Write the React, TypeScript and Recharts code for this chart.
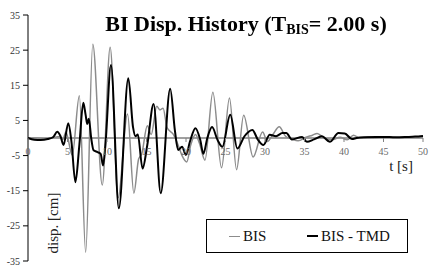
import React from "react";
import { LineChart, Line, XAxis, YAxis, ReferenceLine, Legend } from "recharts";

// ---- data ----
const bisTime = [0, 1, 2, 3, 4, 4.4, 4.8, 5.6, 6.5, 7.3, 8.2, 9.4, 10.4, 11.4, 12.6, 13.4, 14.0, 14.4, 15.1, 15.6, 16.3, 16.7, 17.1, 17.6, 18.4, 19.0, 19.5, 20.1, 20.6, 21.2, 21.7, 22.4, 23.4, 24.5, 25.5, 26.4, 27.3, 28.5, 29.7, 30.3, 31.0, 31.8, 32.6, 33.4, 34.2, 35.2, 36.0, 36.6, 37.5, 38.5, 39.5, 40.4, 41.2, 42.0, 43, 44, 45, 46, 47, 48, 49, 50];
const bisDisp = [0, 0, -0.2, 0, 0.4, -0.4, 1.7, -4.9, 12, -32.5, 26.7, -13.4, 25.8, -17, 6.8, -15.7, -6, -4.5, 3.5, 1, 9, 8, 8.5, 3, 1, -2, -5, -6.8, -2, 1, -1.5, -6.3, 13, -8.5, 11.4, -9, 6.5, -5.4, 1.7, -1, 1, 3.2, 0.5, -0.3, -0.8, 0.2, 0.8, 1.3, 0, -0.5, 0.2, -0.5, 0.8, 0, 0.2, 0.1, 0.3, 0.2, 0.1, 0.2, 0.3, 0.5];

const tmdTime = [0, 0.8, 1.6, 2.5, 3.2, 3.7, 4.1, 4.5, 5.1, 5.5, 6.0, 6.5, 7.0, 7.3, 7.5, 7.7, 8.0, 8.3, 8.8, 9.2, 9.5, 9.8, 10.5, 11.5, 12.7, 13.3, 13.6, 13.9, 14.5, 15.1, 15.9, 16.8, 18.0, 18.6, 19.0, 19.5, 20.0, 20.5, 21.2, 21.8, 22.2, 22.7, 23.3, 24.0, 24.6, 25.6, 26.5, 27.4, 28.4, 29.1, 29.8, 30.6, 31.4, 32.2, 32.7, 33.4, 34.7, 35.3, 36.2, 37.2, 38.2, 39.3, 40.1, 41.0, 41.6, 42.5, 44, 45, 46.5, 48, 49, 50];
const tmdDisp = [0, -0.5, -0.6, -0.3, 0.3, 1.8, 0.6, -2, 4.2, -1, -12.6, -2, 10, 6.5, 4, 5.5, 0, -3.5, -4, -4.5, -7.8, -2, 20.8, -20, 17, 3, 0.5, 1, -8.7, -2, 9.7, -15.7, 14, 2, -3.4, -2.5, -4.8, -1, 2.8, -0.5, -4.5, 0, 3.1, -0.6, -2.5, 6.6, -3, 0.5, 2.3, -0.5, -2, 0.9, 0.5, 1.4, 1.4, -0.4, 0.3, -1.1, -0.4, 0.5, -1.1, 1.4, 1.3, -0.3, 0, 0.2, 0.3, 0.3, 0.2, 0.3, 0.4, 0.6];

const xTicks = [0, 5, 10, 15, 20, 25, 30, 35, 40, 45, 50];
const yTicks = [-35, -25, -15, -5, 5, 15, 25, 35];
const seriesNames = ["BIS", "BIS - TMD"];

const bisData = bisTime.map((t, i) => ({ t, v: bisDisp[i] }));
const tmdData = tmdTime.map((t, i) => ({ t, v: tmdDisp[i] }));

// ---- layout ----
const W = 430;
const H = 267;
const M = { top: 15, right: 7, bottom: 5, left: 0 };
const X_AXIS_H = 1;
const Y_MIN = -35;
const Y_MAX = 35;
const PLOT_H = H - M.top - M.bottom - X_AXIS_H;
const ZERO_Y = M.top + (PLOT_H * (Y_MAX - 0)) / (Y_MAX - Y_MIN);
const SERIF = "Liberation Serif";

const XTick = (props: any) => {
  const { x, payload } = props;
  return (
    <g>
      <line x1={x} x2={x} y1={ZERO_Y} y2={ZERO_Y + 4} stroke="#808080" strokeWidth={1} />
      <text x={x} y={ZERO_Y + 17} textAnchor="middle" fontSize={10} fill="#6a6a6a" style={{ fontFamily: SERIF }}>
        {payload.value}
      </text>
    </g>
  );
};

const YTick = (props: any) => {
  const { x, y, payload } = props;
  return (
    <text x={x} y={y} dy={3.5} textAnchor="end" fontSize={10} fill="#333" style={{ fontFamily: SERIF }}>
      {payload.value}
    </text>
  );
};

const LegendBox = (props: any) => {
  const payload = props.payload || [];
  const lefts = [22, 100];
  return (
    <div
      style={{
        position: "relative",
        width: 200,
        height: 32,
        border: "1px solid #000",
        background: "#fff",
        fontFamily: SERIF,
        fontSize: 15,
        color: "#111",
      }}
    >
      {payload.map((p: any, i: number) => (
        <div
          key={i}
          style={{
            position: "absolute",
            left: lefts[i],
            top: 8,
            display: "flex",
            alignItems: "center",
            whiteSpace: "nowrap",
            lineHeight: "16px",
            fontFamily: SERIF,
          }}
        >
          <span
            style={{
              display: "inline-block",
              width: 11,
              height: 0,
              borderTop: `${i === 0 ? 1.5 : 2}px solid ${p.color}`,
              marginRight: 3,
            }}
          />
          <span style={{ fontFamily: SERIF }}>{p.value}</span>
        </div>
      ))}
    </div>
  );
};

export default function App() {
  return (
    <div style={{ position: "fixed", left: 0, top: 0, width: W, height: H, background: "#fff" }}>
      <LineChart width={W} height={H} margin={M}>
        <XAxis
          dataKey="t"
          type="number"
          domain={[0, 50]}
          ticks={xTicks}
          interval={0}
          height={X_AXIS_H}
          axisLine={false}
          tickLine={false}
          tick={<XTick />}
          allowDuplicatedCategory={false}
        />
        <YAxis
          type="number"
          domain={[Y_MIN, Y_MAX]}
          ticks={yTicks}
          interval={0}
          width={28}
          axisLine={{ stroke: "#000", strokeWidth: 1 }}
          tickLine={{ stroke: "#000", strokeWidth: 1 }}
          tickSize={5}
          tickMargin={3}
          tick={<YTick />}
          allowDataOverflow
        />
        <ReferenceLine y={0} stroke="#808080" strokeWidth={1.5} />
        <Line
          data={bisData}
          dataKey="v"
          name={seriesNames[0]}
          type="monotone"
          stroke="#8c8c8c"
          strokeWidth={1.5}
          dot={false}
          isAnimationActive={false}
        />
        <Line
          data={tmdData}
          dataKey="v"
          name={seriesNames[1]}
          type="monotone"
          stroke="#000"
          strokeWidth={2}
          dot={false}
          isAnimationActive={false}
        />
        <Legend
          layout="horizontal"
          verticalAlign="middle"
          align="center"
          content={<LegendBox />}
          wrapperStyle={{ position: "absolute", left: 206, top: 219, width: 202, height: 34 }}
        />
      </LineChart>
      <div
        style={{
          position: "absolute",
          left: 46,
          width: 400,
          top: 13,
          textAlign: "center",
          fontFamily: SERIF,
          fontWeight: "bold",
          fontSize: 22,
          lineHeight: "22px",
          whiteSpace: "nowrap",
          color: "#000",
        }}
      >
        BI Disp. History (T<span style={{ fontSize: 14, position: "relative", top: 3 }}>BIS</span>= 2.00 s)
      </div>
      <div
        style={{
          position: "absolute",
          left: 53,
          top: 223,
          transform: "translate(-50%, -50%) rotate(-90deg)",
          fontFamily: SERIF,
          fontSize: 15,
          lineHeight: "15px",
          whiteSpace: "nowrap",
          color: "#222",
        }}
      >
        disp. [cm]
      </div>
      <div
        style={{
          position: "absolute",
          left: 401,
          top: 159,
          transform: "translateX(-50%)",
          fontFamily: SERIF,
          fontSize: 15,
          lineHeight: "15px",
          whiteSpace: "nowrap",
          color: "#222",
        }}
      >
        t [s]
      </div>
    </div>
  );
}
